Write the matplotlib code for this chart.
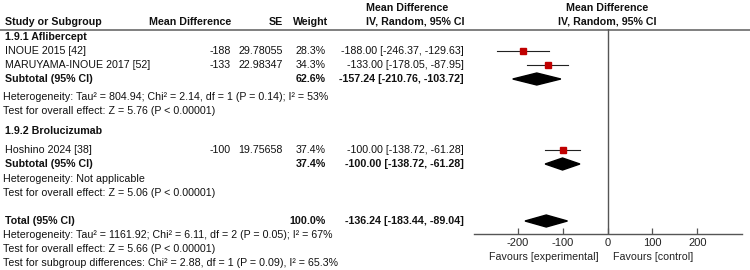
import numpy as np
import matplotlib.pyplot as plt
from matplotlib.patches import Polygon

plt.rcParams['font.family'] = ['Liberation Sans', 'DejaVu Sans']

# study level data
studies = ['INOUE 2015 [42]', 'MARUYAMA-INOUE 2017 [52]', 'Hoshino 2024 [38]']
md = [-188, -133, -100]
se = ['29.78055', '22.98347', '19.75658']
weight = ['28.3%', '34.3%', '37.4%']
est = [-188.00, -133.00, -100.00]
lo = [-246.37, -178.05, -138.72]
hi = [-129.63, -87.95, -61.28]

# subgroup / total pooled results
groups = ['1.9.1 Aflibercept', '1.9.2 Brolucizumab']
sub_weight = ['62.6%', '37.4%']
sub_est = [-157.24, -100.00]
sub_lo = [-210.76, -138.72]
sub_hi = [-103.72, -61.28]
sub_het = ['Heterogeneity: Tau\u00b2 = 804.94; Chi\u00b2 = 2.14, df = 1 (P = 0.14); I\u00b2 = 53%',
           'Heterogeneity: Not applicable']
sub_z = ['Test for overall effect: Z = 5.76 (P < 0.00001)',
         'Test for overall effect: Z = 5.06 (P < 0.00001)']
tot_weight = '100.0%'
tot_est, tot_lo, tot_hi = -136.24, -183.44, -89.04
tot_notes = ['Heterogeneity: Tau\u00b2 = 1161.92; Chi\u00b2 = 6.11, df = 2 (P = 0.05); I\u00b2 = 67%',
             'Test for overall effect: Z = 5.66 (P < 0.00001)',
             'Test for subgroup differences: Chi\u00b2 = 2.88, df = 1 (P = 0.09), I\u00b2 = 65.3%']
ticks = [-200, -100, 0, 100, 200]

# row positions (pixels from top)
study_y = [51, 65, 150]
group_y = [37, 131]
sub_y = [79, 164]
het_y = [97, 179]
z_y = [111, 193]
tot_y = 221
tot_notes_y = [235, 249, 263]

W, H = 750, 270
fig = plt.figure(figsize=(W / 100, H / 100), dpi=100)
ax = fig.add_axes([0, 0, 1, 1])
ax.set_xlim(0, W)
ax.set_ylim(H, 0)
ax.axis('off')

fs = 7.7
kw = dict(fontsize=fs, va='center', color='#111111')
bkw = dict(kw, fontweight='bold')

# header
ax.text(5, 22, 'Study or Subgroup', ha='left', **bkw)
ax.text(231, 22, 'Mean Difference', ha='right', **bkw)
ax.text(283, 22, 'SE', ha='right', **bkw)
ax.text(328, 22, 'Weight', ha='right', **bkw)
ax.text(366, 8, 'Mean Difference', ha='left', **bkw)
ax.text(366, 22, 'IV, Random, 95% CI', ha='left', **bkw)
ax.text(607, 8, 'Mean Difference', ha='center', **bkw)
ax.text(607, 22, 'IV, Random, 95% CI', ha='center', **bkw)
ax.plot([0, W], [29.5, 29.5], color='#7f7f7f', lw=1.4)

# study rows
for i in range(len(studies)):
    y = study_y[i]
    ax.text(5, y, studies[i], ha='left', **kw)
    ax.text(231, y, str(md[i]), ha='right', **kw)
    ax.text(283, y, se[i], ha='right', **kw)
    ax.text(326, y, weight[i], ha='right', **kw)
    ax.text(464, y, '%.2f [%.2f, %.2f]' % (est[i], lo[i], hi[i]), ha='right', **kw)

# subgroup rows
for g in range(len(groups)):
    ax.text(5, group_y[g], groups[g], ha='left', **bkw)
    ax.text(5, sub_y[g], 'Subtotal (95% CI)', ha='left', **bkw)
    ax.text(326, sub_y[g], sub_weight[g], ha='right', **bkw)
    ax.text(464, sub_y[g], '%.2f [%.2f, %.2f]' % (sub_est[g], sub_lo[g], sub_hi[g]),
            ha='right', **bkw)
    ax.text(3, het_y[g], sub_het[g], ha='left', **kw)
    ax.text(3, z_y[g], sub_z[g], ha='left', **kw)

ax.text(5, tot_y, 'Total (95% CI)', ha='left', **bkw)
ax.text(326, tot_y, tot_weight, ha='right', **bkw)
ax.text(464, tot_y, '%.2f [%.2f, %.2f]' % (tot_est, tot_lo, tot_hi), ha='right', **bkw)
for t, y in zip(tot_notes, tot_notes_y):
    ax.text(3, y, t, ha='left', **kw)

# forest panel, x in mean difference units, y shares pixel rows
top, bot = 29.5, 234.3
fx = fig.add_axes([473.5 / W, (H - bot) / H, 268 / W, (bot - top) / H])
fx.set_xlim(-298, 298)
fx.set_ylim(bot, top)
fx.patch.set_alpha(0)
for s in ['top', 'right', 'left']:
    fx.spines[s].set_visible(False)
fx.spines['bottom'].set_color('#555555')
fx.spines['bottom'].set_linewidth(1.0)
fx.set_yticks([])
fx.set_xticks(ticks)
fx.set_xticklabels([str(t) for t in ticks])
fx.tick_params(axis='x', direction='in', length=4, width=0.9, color='#555555',
               labelsize=fs + 0.3, pad=3, labelcolor='#222222')
fx.axvline(0, color='#555555', lw=1.0)

for i in range(len(studies)):
    fx.plot([lo[i], hi[i]], [study_y[i], study_y[i]], color='#222222', lw=0.8)
    fx.plot(est[i], study_y[i], marker='s', ms=5.0, color='#c00000', mec='#c00000')

dh = 6
for g in range(len(groups)):
    y = sub_y[g]
    fx.add_patch(Polygon([[sub_lo[g], y], [sub_est[g], y - dh], [sub_hi[g], y],
                          [sub_est[g], y + dh]], closed=True, color='black'))
fx.add_patch(Polygon([[tot_lo, tot_y], [tot_est, tot_y - dh], [tot_hi, tot_y],
                      [tot_est, tot_y + dh]], closed=True, color='black'))

ax.text(599, 257, 'Favours [experimental]', ha='right', **dict(kw, color='#222222'))
ax.text(613, 257, 'Favours [control]', ha='left', **dict(kw, color='#222222'))

fig.savefig('out.png', dpi=100)
